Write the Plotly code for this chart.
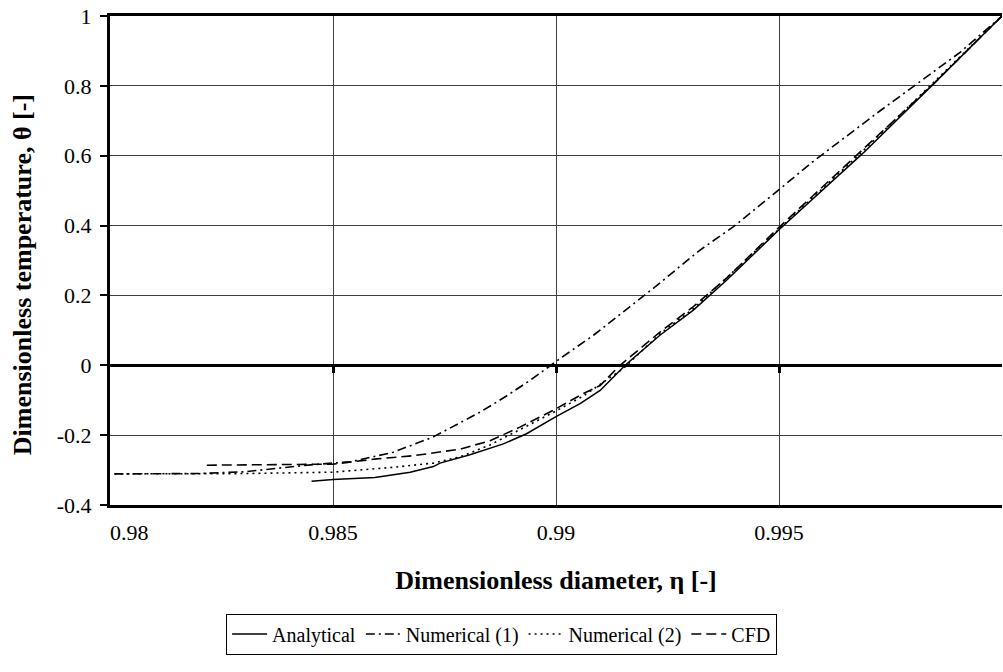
import plotly.graph_objects as go

# ---- data ----
analytical_x = [0.98452, 0.985, 0.98594, 0.98673, 0.98725, 0.9874, 0.98807, 0.98882, 0.98934, 0.99,
                0.99054, 0.99099, 0.99155, 0.99233, 0.99308, 0.99383, 0.995, 0.99689, 0.99846, 1.0]
analytical_y = [-0.332, -0.327, -0.321, -0.306, -0.29, -0.28, -0.256, -0.225, -0.196, -0.147,
                -0.11, -0.072, 0.0, 0.086, 0.158, 0.244, 0.388, 0.608, 0.805, 1.0]

num1_x = [0.9801, 0.982, 0.983, 0.9838, 0.9845, 0.9854, 0.98635, 0.98725, 0.9877, 0.9883, 0.98889,
          0.98942, 0.9901, 0.99084, 0.99151, 0.99218, 0.99323, 0.99398, 0.99502, 0.99577, 0.99726,
          0.99906, 1.0]
num1_y = [-0.311, -0.31, -0.305, -0.295, -0.285, -0.276, -0.249, -0.205, -0.175, -0.134, -0.088,
          -0.043, 0.02, 0.086, 0.153, 0.22, 0.33, 0.397, 0.505, 0.584, 0.728, 0.896, 1.0]

num2_x = [0.9801, 0.983, 0.985, 0.98635, 0.98725, 0.98785, 0.98852, 0.98919, 0.98994, 0.99061,
          0.9915, 0.99233, 0.99308, 0.995, 0.99682, 1.0]
num2_y = [-0.311, -0.31, -0.306, -0.292, -0.28, -0.262, -0.228, -0.185, -0.135, -0.088,
          -0.01, 0.09, 0.162, 0.39, 0.606, 1.0]

cfd_x = [0.98217, 0.985, 0.98598, 0.9868, 0.98785, 0.98852, 0.98919, 0.98994, 0.99061, 0.99099,
         0.99141, 0.99233, 0.99308, 0.99383, 0.995, 0.99682, 0.9985, 1.0]
cfd_y = [-0.286, -0.283, -0.268, -0.259, -0.24, -0.216, -0.177, -0.129, -0.081, -0.058,
         -0.003, 0.095, 0.168, 0.25, 0.395, 0.61, 0.81, 1.0]

x_ticks = [0.98, 0.985, 0.99, 0.995, 1.0]
x_labels = ["\u00a0" * 7 + "0.98", "0.985", "0.99", "0.995", "1"]
y_ticks = [-0.4, -0.2, 0, 0.2, 0.4, 0.6, 0.8, 1.0]
y_labels = ["-0.4", "-0.2", "0", "0.2", "0.4", "0.6", "0.8", "1"]

x_title = "Dimensionless diameter, η [-]"
y_title = "Dimensionless temperature, θ [-]"

FONT = "Liberation Serif"

fig = go.Figure()
fig.add_trace(go.Scatter(x=analytical_x, y=analytical_y, mode="lines", name="Analytical",
                         line=dict(color="black", width=1.5)))
fig.add_trace(go.Scatter(x=num1_x, y=num1_y, mode="lines", name="Numerical (1)",
                         line=dict(color="black", width=1.6, dash="9px,4px,2px,4px")))
fig.add_trace(go.Scatter(x=num2_x, y=num2_y, mode="lines", name="Numerical (2)",
                         line=dict(color="black", width=1.6, dash="2px,4px")))
fig.add_trace(go.Scatter(x=cfd_x, y=cfd_y, mode="lines", name="CFD",
                         line=dict(color="black", width=1.6, dash="10px,5px")))
# invisible helper trace so a second x-axis can carry ticks along the y=0 line
fig.add_trace(go.Scatter(x=[x_ticks[0]], y=[y_ticks[0]], xaxis="x2", mode="markers",
                         marker=dict(opacity=0), showlegend=False, hoverinfo="skip"))

fig.add_annotation(text=f"<b>{y_title}</b>", xref="paper", yref="paper",
                   x=-0.0987, y=0.472, xanchor="center", yanchor="middle",
                   textangle=-90, showarrow=False,
                   font=dict(family=FONT, size=26, color="black"))

fig.update_layout(
    width=1003, height=672,
    margin=dict(l=110, r=1, t=16, b=167),
    paper_bgcolor="white", plot_bgcolor="white",
    font=dict(family=FONT, size=22, color="black"),
    xaxis=dict(range=[0.98, 1.0], tickvals=x_ticks, ticktext=x_labels,
               showgrid=True, gridcolor="#404040", gridwidth=1,
               showline=True, linecolor="black", linewidth=3, mirror=True,
               ticks="outside", ticklen=0, ticklabelstandoff=6, zeroline=False,
               tickfont=dict(family=FONT, size=22, color="black"),
               title=dict(text=f"<b>{x_title}</b>", standoff=27,
                          font=dict(family=FONT, size=26, color="black"))),
    xaxis2=dict(range=[0.98, 1.0], tickvals=x_ticks[1:4], overlaying="x", anchor="free",
                position=0.4 / 1.4, side="bottom", showticklabels=False, showgrid=False,
                showline=False, zeroline=False, ticks="outside", ticklen=7, tickwidth=3,
                tickcolor="black"),
    yaxis=dict(range=[-0.4, 1.0], tickvals=y_ticks, ticktext=y_labels,
               showgrid=True, gridcolor="#404040", gridwidth=1,
               showline=True, linecolor="black", linewidth=3,
               ticks="outside", ticklen=7, tickwidth=1.5, tickcolor="black",
               ticklabelstandoff=4, tickfont=dict(family=FONT, size=22, color="black"),
               zeroline=True, zerolinecolor="black", zerolinewidth=3),
    legend=dict(orientation="h", x=0.439, y=-0.222, xanchor="center", yanchor="top",
                bordercolor="black", borderwidth=1, bgcolor="white",
                font=dict(family=FONT, size=20, color="black"), itemwidth=35,
                tracegroupgap=0),
    showlegend=True,
)

fig.write_html("out.html")
